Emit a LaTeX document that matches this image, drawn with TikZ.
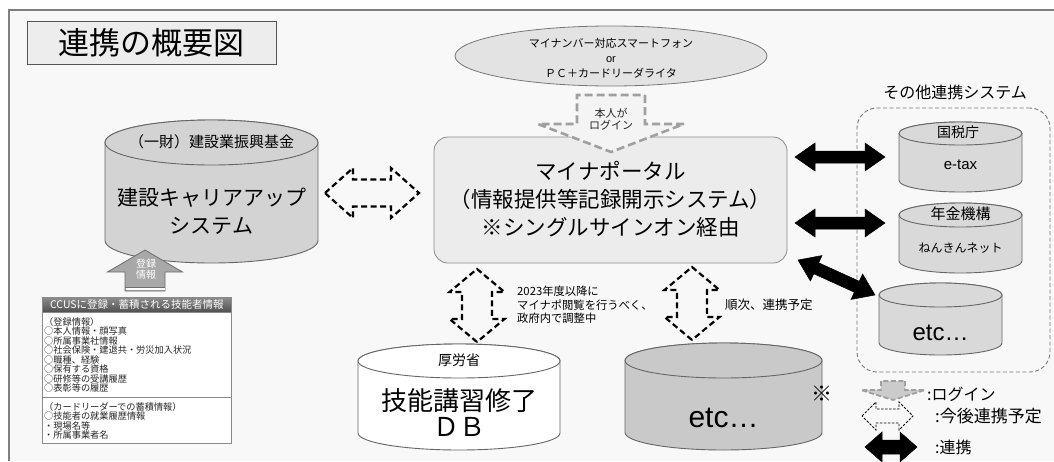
\documentclass[tikz,border=0pt]{standalone}
\usepackage{fontspec}
\setmainfont{Noto Sans CJK JP}
\newfontfamily\latn{Liberation Sans}
\usetikzlibrary{calc,shapes.geometric}
\definecolor{bgc}{HTML}{F8F8F8}
\definecolor{framec}{HTML}{7F7F7F}
\definecolor{titlefill}{HTML}{EDEDED}
\definecolor{titleborder}{HTML}{555555}
\definecolor{ellfill}{HTML}{E3E3E3}
\definecolor{ellborder}{HTML}{777777}
\definecolor{portalfill}{HTML}{ECECEC}
\definecolor{portalborder}{HTML}{8A8A8A}
\definecolor{cylA}{HTML}{D3D3D3}
\definecolor{cylB}{HTML}{C9C9C9}
\definecolor{cylC}{HTML}{D9D9D9}
\definecolor{cylborder}{HTML}{666666}
\definecolor{loginc}{HTML}{A0A0A0}
\definecolor{loginfill}{HTML}{F4F4F4}
\definecolor{regfill}{HTML}{A8A8A8}
\definecolor{regborder}{HTML}{6E6E6E}
\definecolor{hdtop}{HTML}{8C8C8C}
\definecolor{hdbot}{HTML}{4E4E4E}
\definecolor{ccusborder}{HTML}{8A8A8A}
\definecolor{groupborder}{HTML}{777777}
\newcommand\myfs[2]{\fontsize{#1}{#2}\selectfont}
% single block arrow: [style]{tail}{tip}{shaft half}{head half}{head length}
\newcommand\sglarrow[6][]{\draw[#1] ($(#2)!#4!90:(#3)$) -- ($(#3)!#6!(#2)!#4!90:(#3)$) -- ($(#3)!#6!(#2)!#5!90:(#3)$) -- (#3) -- ($(#3)!#6!(#2)!#5!-90:(#3)$) -- ($(#3)!#6!(#2)!#4!-90:(#3)$) -- ($(#2)!#4!-90:(#3)$) -- cycle;}
% double block arrow: [style]{end A}{end B}{shaft half}{head half}{head length}
\newcommand\dblarrow[6][]{\draw[#1] (#2) -- ($(#2)!#6!(#3)!#5!90:(#3)$) -- ($(#2)!#6!(#3)!#4!90:(#3)$) -- ($(#3)!#6!(#2)!#4!90:(#3)$) -- ($(#3)!#6!(#2)!#5!90:(#3)$) -- (#3) -- ($(#3)!#6!(#2)!#5!-90:(#3)$) -- ($(#3)!#6!(#2)!#4!-90:(#3)$) -- ($(#2)!#6!(#3)!#4!-90:(#3)$) -- ($(#2)!#6!(#3)!#5!-90:(#3)$) -- cycle;}
% cylinder: {fill}{cx}{rx}{y top centre}{y bottom centre}{ry}
\newcommand\drawcyl[6]{\draw[cylline, fill=#1] (#2-#3,#4) -- (#2-#3,#5) arc[start angle=180, end angle=0, x radius=#3, y radius=#6] -- (#2+#3,#4) arc[start angle=0, end angle=-180, x radius=#3, y radius=#6] -- cycle;
\draw[cylline, fill=#1] (#2,#4) ellipse [x radius=#3, y radius=#6];}
\begin{document}
\begin{tikzpicture}[x=1pt,y=-1pt,
  txt/.style={inner sep=0pt, text=black},
  cylline/.style={draw=cylborder, line width=0.9pt},
  dasharrow/.style={draw=black, line width=2.2pt, dash pattern=on 6pt off 3.5pt, fill=bgc, line join=miter},
  solidarrow/.style={draw=black, fill=black, line width=0.5pt},
  loginstyle/.style={draw=loginc, line width=2.6pt, dash pattern=on 8pt off 4pt, fill=loginfill},
  regstyle/.style={draw=regborder, fill=regfill, line width=0.8pt},
  legtext/.style={txt, anchor=west, font=\myfs{16}{18}}]
\useasboundingbox (0,0) rectangle (1054,461);
\fill[white] (0,0) rectangle (1054,461);
\fill[bgc] (9,10) rectangle (1054,461);
\draw[framec, line width=1.6pt] (9,461) -- (9,10) -- (1054,10);

% title
\node[draw=titleborder, line width=1pt, fill=titlefill, minimum width=249pt, minimum height=43pt, inner sep=0, font=\myfs{31}{36}] (title) at (151.5,42.5) {連携の概要図};

% device ellipse
\node[ellipse, draw=ellborder, line width=0.8pt, fill=ellfill, minimum width=312pt, minimum height=60pt, inner sep=0] (device) at (611,56) {};
\node[txt, align=center, font=\myfs{11}{15}] (devtext) at (611,58) {マイナンバー対応スマートフォン\\{\latn or}\\ＰＣ＋カードリーダライタ};

% portal box
\node[draw=portalborder, line width=0.8pt, fill=portalfill, rounded corners=14pt, minimum width=353pt, minimum height=126pt, inner sep=0] (portal) at (610.5,200) {};
\node[txt, align=center, font=\myfs{21.5}{28}] (portaltext) at (610.5,199) {マイナポータル\\（情報提供等記録開示システム）\\※シングルサインオン経由};

% login arrow
\coordinate (loginTail) at (611,95);
\coordinate (loginTip) at (611,152);
\sglarrow[loginstyle]{loginTail}{loginTip}{34pt}{73pt}{28pt}
\node[txt, align=center, font=\myfs{11}{12.5}, text=black!85] (logintext) at (611,119) {本人が\\ログイン};

% CCUS cylinder
\drawcyl{cylA}{211.5}{106.5}{142.5}{240.5}{22.5}
\node[txt, font=\myfs{15}{18}] (zaidan) at (211.5,142) {（一財）建設業振興基金};
\node[txt, align=center, font=\myfs{21}{28}] (ccus) at (211.5,211) {建設キャリアアップ\\システム};

% registration arrow
\coordinate (regTail) at (145,291);
\coordinate (regTip) at (145,250);
\sglarrow[regstyle]{regTail}{regTip}{20pt}{37.5pt}{22pt}
\fill[white] (125.5,287.8) rectangle (164.5,290.3);
\draw[regborder, line width=0.8pt] (125,287.5) -- (165,287.5);
\node[txt, align=center, font=\myfs{10}{11}, text=white] (regtext) at (146,269) {登録\\情報};

% CCUS info box
\node[draw=ccusborder, line width=0.8pt, fill=white, minimum width=189pt, minimum height=146pt, inner sep=0, anchor=north west] (ccusbox) at (42,297) {};
\node[draw=ccusborder, line width=0.8pt, top color=hdtop, bottom color=hdbot, minimum width=189pt, minimum height=15pt, inner sep=0, anchor=north west, text=white, font=\myfs{10.5}{12}] (ccushead) at (42,297) {CCUSに登録・蓄積される技能者情報};
\draw[ccusborder, line width=0.8pt] (42,397) -- (231,397);
\node[txt, align=left, anchor=north west, font=\myfs{9.2}{9.5}, text=black!85] (reginfo) at (44,317) {（登録情報）\\○本人情報・顔写真\\○所属事業社情報\\○社会保険・建退共・労災加入状況\\○職種、経験\\○保有する資格\\○研修等の受講履歴\\○表彰等の履歴};
\node[txt, align=left, anchor=north west, font=\myfs{9.2}{9.5}, text=black!85] (cardinfo) at (44,402) {（カードリーダーでの蓄積情報）\\○技能者の就業履歴情報\\・現場名等\\・所属事業者名};

% bottom cylinders
\drawcyl{white}{459}{101}{361}{433}{17}
\node[txt, font=\myfs{14}{16}] (kourou) at (459,360) {厚労省};
\node[txt, align=center, font=\myfs{26}{26}] (ginou) at (459,412.5) {技能講習修了\\ＤＢ};
\drawcyl{cylB}{723.5}{98.5}{360.5}{432.5}{17.5}
\node[txt, font=\latn\myfs{30}{32}] (etcmid) at (723.5,418) {etc…};

% group
\node[draw=groupborder, line width=0.9pt, dash pattern=on 4pt off 2.5pt, rounded corners=20pt, minimum width=193pt, minimum height=264pt, inner sep=0] (group) at (953.5,240) {};
\node[txt, font=\myfs{16}{18}] (grouptitle) at (955,92) {その他連携システム};
\drawcyl{cylC}{960.5}{61.5}{133.5}{180.5}{11.5}
\node[txt, font=\myfs{14}{16}] (kokuzei) at (958,132) {国税庁};
\node[txt, font=\latn\myfs{15}{17}] (etax) at (960.5,165) {e-tax};
\drawcyl{cylC}{960.5}{61.5}{215}{261}{12}
\node[txt, font=\myfs{15}{17}] (nenkin) at (960.5,214) {年金機構};
\node[txt, font=\myfs{12}{14}] (nenkinnet) at (960.5,248) {ねんきんネット};
\drawcyl{cylC}{940.5}{61.5}{295}{343}{12}
\node[txt, font=\latn\myfs{24}{26}] (etcright) at (940.5,333) {etc…};

% dashed double arrows (planned links)
\coordinate (h1) at (325,193); \coordinate (h2) at (419,193);
\dblarrow[dasharrow]{h1}{h2}{13.5pt}{25pt}{28pt}
\coordinate (v1a) at (477,342); \coordinate (v1b) at (477,269);
\dblarrow[dasharrow]{v1a}{v1b}{15pt}{27.5pt}{23pt}
\coordinate (v2a) at (692,340); \coordinate (v2b) at (692,267);
\dblarrow[dasharrow]{v2a}{v2b}{15pt}{27.5pt}{23pt}
\node[txt, align=left, anchor=west, font=\myfs{11.3}{13.5}] (note1) at (517,305) {2023年度以降に\\マイナポ閲覧を行うべく、\\政府内で調整中};
\node[txt, anchor=west, font=\myfs{12.5}{14}] (note2) at (725,305) {順次、連携予定};

% solid double arrows (links)
\coordinate (s1a) at (795,157); \coordinate (s1b) at (885,157);
\dblarrow[solidarrow]{s1a}{s1b}{6pt}{14pt}{20pt}
\coordinate (s2a) at (795,223); \coordinate (s2b) at (885,223);
\dblarrow[solidarrow]{s2a}{s2b}{6pt}{14pt}{20pt}
\coordinate (s3a) at (798,260); \coordinate (s3b) at (875,295);
\dblarrow[solidarrow]{s3a}{s3b}{6pt}{14pt}{20pt}

% legend
\node[txt, font=\myfs{21}{22}] (kome) at (822,394) {※};
\coordinate (lgTail) at (893,381); \coordinate (lgTip) at (893,400);
\sglarrow[draw=loginc, line width=1.8pt, dash pattern=on 5pt off 2.5pt, fill=loginc!55]{lgTail}{lgTip}{12pt}{32pt}{10pt}
\node[legtext] (lg1) at (927,394) {:ログイン};
\coordinate (ld1) at (862,416); \coordinate (ld2) at (913,416);
\dblarrow[draw=black, line width=0.8pt, dash pattern=on 2.5pt off 1.5pt, fill=bgc]{ld1}{ld2}{7pt}{14pt}{14pt}
\node[legtext, font=\myfs{17}{19}] (lg2) at (935,416) {:今後連携予定};
\coordinate (ls1) at (865,447); \coordinate (ls2) at (917,447);
\dblarrow[solidarrow]{ls1}{ls2}{7pt}{15pt}{17pt}
\node[legtext] (lg3) at (935,447) {:連携};
\end{tikzpicture}
\end{document}
